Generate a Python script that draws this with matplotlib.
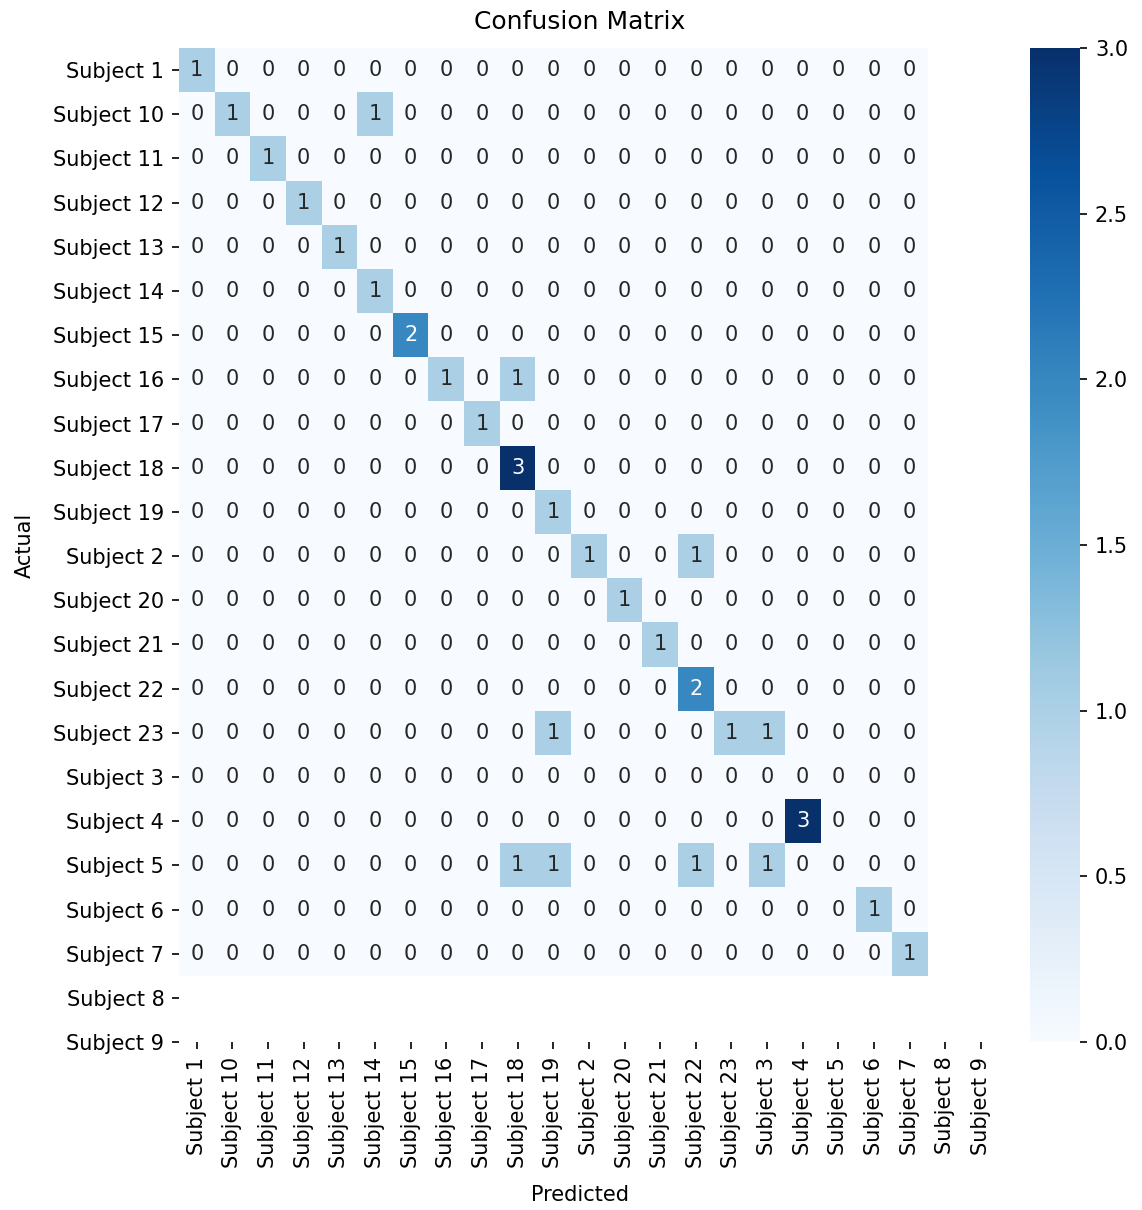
import numpy as np
import matplotlib
matplotlib.use("Agg")
import matplotlib.pyplot as plt
import seaborn as sns


# class names, string-sorted like the label encoder gives them
labels = [
    "Subject 1", "Subject 10", "Subject 11", "Subject 12", "Subject 13",
    "Subject 14", "Subject 15", "Subject 16", "Subject 17", "Subject 18",
    "Subject 19", "Subject 2", "Subject 20", "Subject 21", "Subject 22",
    "Subject 23", "Subject 3", "Subject 4", "Subject 5", "Subject 6",
    "Subject 7", "Subject 8", "Subject 9",
]

# confusion matrix only covers the 21 classes present in the test split
cm = np.array([
    [1, 0, 0, 0, 0, 0, 0, 0, 0, 0, 0, 0, 0, 0, 0, 0, 0, 0, 0, 0, 0],
    [0, 1, 0, 0, 0, 1, 0, 0, 0, 0, 0, 0, 0, 0, 0, 0, 0, 0, 0, 0, 0],
    [0, 0, 1, 0, 0, 0, 0, 0, 0, 0, 0, 0, 0, 0, 0, 0, 0, 0, 0, 0, 0],
    [0, 0, 0, 1, 0, 0, 0, 0, 0, 0, 0, 0, 0, 0, 0, 0, 0, 0, 0, 0, 0],
    [0, 0, 0, 0, 1, 0, 0, 0, 0, 0, 0, 0, 0, 0, 0, 0, 0, 0, 0, 0, 0],
    [0, 0, 0, 0, 0, 1, 0, 0, 0, 0, 0, 0, 0, 0, 0, 0, 0, 0, 0, 0, 0],
    [0, 0, 0, 0, 0, 0, 2, 0, 0, 0, 0, 0, 0, 0, 0, 0, 0, 0, 0, 0, 0],
    [0, 0, 0, 0, 0, 0, 0, 1, 0, 1, 0, 0, 0, 0, 0, 0, 0, 0, 0, 0, 0],
    [0, 0, 0, 0, 0, 0, 0, 0, 1, 0, 0, 0, 0, 0, 0, 0, 0, 0, 0, 0, 0],
    [0, 0, 0, 0, 0, 0, 0, 0, 0, 3, 0, 0, 0, 0, 0, 0, 0, 0, 0, 0, 0],
    [0, 0, 0, 0, 0, 0, 0, 0, 0, 0, 1, 0, 0, 0, 0, 0, 0, 0, 0, 0, 0],
    [0, 0, 0, 0, 0, 0, 0, 0, 0, 0, 0, 1, 0, 0, 1, 0, 0, 0, 0, 0, 0],
    [0, 0, 0, 0, 0, 0, 0, 0, 0, 0, 0, 0, 1, 0, 0, 0, 0, 0, 0, 0, 0],
    [0, 0, 0, 0, 0, 0, 0, 0, 0, 0, 0, 0, 0, 1, 0, 0, 0, 0, 0, 0, 0],
    [0, 0, 0, 0, 0, 0, 0, 0, 0, 0, 0, 0, 0, 0, 2, 0, 0, 0, 0, 0, 0],
    [0, 0, 0, 0, 0, 0, 0, 0, 0, 0, 1, 0, 0, 0, 0, 1, 1, 0, 0, 0, 0],
    [0, 0, 0, 0, 0, 0, 0, 0, 0, 0, 0, 0, 0, 0, 0, 0, 0, 0, 0, 0, 0],
    [0, 0, 0, 0, 0, 0, 0, 0, 0, 0, 0, 0, 0, 0, 0, 0, 0, 3, 0, 0, 0],
    [0, 0, 0, 0, 0, 0, 0, 0, 0, 1, 1, 0, 0, 0, 1, 0, 1, 0, 0, 0, 0],
    [0, 0, 0, 0, 0, 0, 0, 0, 0, 0, 0, 0, 0, 0, 0, 0, 0, 0, 0, 1, 0],
    [0, 0, 0, 0, 0, 0, 0, 0, 0, 0, 0, 0, 0, 0, 0, 0, 0, 0, 0, 0, 1],
])


fig = plt.figure(figsize=(1142 / 150, 1210 / 150), dpi=150)
ax = fig.add_axes([0.1567, 0.1388, 0.7023, 0.8215])
cax = fig.add_axes([0.902, 0.1388, 0.044, 0.8215])

sns.heatmap(cm, annot=True, fmt="d", cmap="Blues", ax=ax, cbar_ax=cax,
            xticklabels=False, yticklabels=False)

# 23 labels on a 21x21 matrix -> ticks run past the cells
ticks = np.arange(len(labels)) + 0.5
ax.set_xticks(ticks)
ax.set_xticklabels(labels, rotation=90)
ax.set_yticks(ticks)
ax.set_yticklabels(labels, rotation=0)
ax.set_xlim(0, ticks[-1])
ax.set_ylim(ticks[-1], 0)

ax.set_xlabel("Predicted", labelpad=8)
ax.set_ylabel("Actual", labelpad=9)
ax.set_title("Confusion Matrix", pad=9)

fig.savefig("out.png", dpi=150)
